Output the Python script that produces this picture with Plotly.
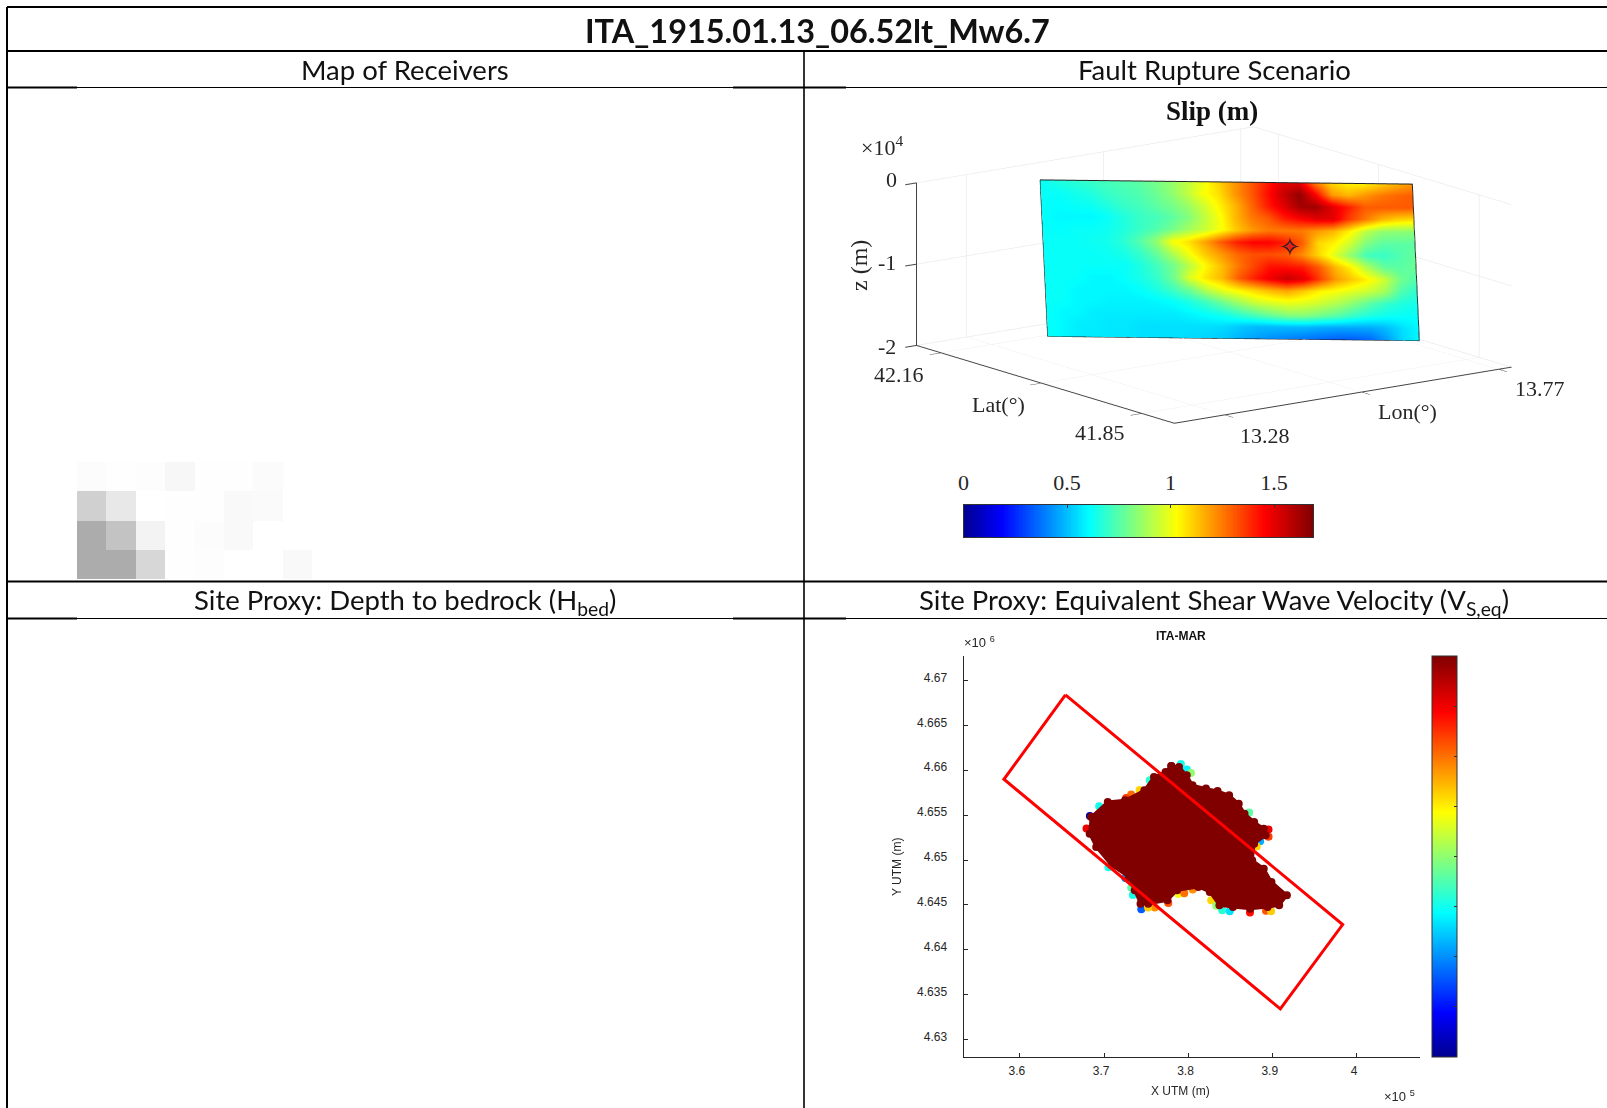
import numpy as np
import plotly.graph_objects as go

W, H = 1607, 1108

# ---------- data ----------
JET = [[0, "rgb(0,0,143)"], [0.11, "rgb(0,0,255)"], [0.36, "rgb(0,255,255)"],
       [0.61, "rgb(255,255,0)"], [0.86, "rgb(255,0,0)"], [1, "rgb(128,0,0)"]]

# Map of receivers: grey raster cells
map_cells = [
    [252, 254, 253, 247, 254, 254, 251, 255],
    [208, 232, 255, 254, 254, 249, 250, 255],
    [172, 195, 243, 254, 252, 249, 255, 255],
    [172, 172, 215, 254, 253, 255, 255, 249],
]

# Slip (m) along strike (columns) and down dip (rows)
slip = [
    [.62,.66,.68,.70,.72,.74,.76,.80,.85,.92,1.0,1.1,1.2,1.3,1.4,1.5,1.5,1.25,1.1,1.05,1.05,1.1,1.15,1.2],
    [.62,.62,.64,.66,.70,.72,.74,.78,.84,.92,1.02,1.08,1.2,1.3,1.42,1.55,1.65,1.45,1.2,1.15,1.2,1.25,1.28,1.3],
    [.62,.61,.62,.63,.66,.70,.72,.76,.80,.86,.95,1.05,1.15,1.28,1.4,1.5,1.62,1.62,1.5,1.4,1.3,1.3,1.3,1.3],
    [.62,.6,.6,.6,.62,.66,.70,.72,.76,.82,.92,1.02,1.15,1.25,1.3,1.4,1.45,1.5,1.5,1.35,1.25,1.15,1.1,1.08],
    [.62,.61,.62,.62,.63,.66,.70,.74,.80,.88,.94,1.02,1.12,1.2,1.25,1.25,1.25,1.2,1.15,1.05,.92,.85,.84,.84],
    [.62,.62,.62,.63,.64,.68,.75,.85,1.02,1.08,1.18,1.3,1.4,1.45,1.45,1.4,1.3,1.1,1.05,.95,.82,.76,.76,.76],
    [.62,.62,.62,.62,.63,.65,.70,.78,.90,1.02,1.12,1.2,1.28,1.32,1.32,1.3,1.22,1.1,.98,.85,.72,.7,.74,.78],
    [.62,.62,.62,.62,.62,.62,.66,.72,.80,.92,1.04,1.14,1.25,1.34,1.42,1.42,1.4,1.3,1.15,1.05,.9,.78,.76,.78],
    [.62,.62,.62,.6,.6,.62,.65,.7,.8,.98,1.08,1.15,1.3,1.4,1.48,1.55,1.5,1.35,1.2,1.12,1.05,.95,.8,.74],
    [.62,.62,.6,.6,.6,.6,.62,.66,.72,.8,.92,1.0,1.05,1.1,1.15,1.18,1.12,1.05,1.02,.98,.94,.88,.74,.68],
    [.62,.62,.6,.6,.59,.59,.59,.6,.62,.66,.72,.8,.88,.95,.98,1.0,.98,.95,.9,.84,.76,.7,.66,.64],
    [.62,.6,.6,.58,.58,.58,.58,.58,.58,.6,.62,.65,.7,.75,.8,.84,.84,.8,.76,.7,.66,.63,.62,.62],
    [.62,.6,.58,.58,.57,.57,.56,.56,.56,.56,.56,.55,.52,.5,.5,.5,.5,.48,.47,.47,.47,.5,.56,.6],
    [.62,.6,.58,.58,.57,.57,.56,.56,.56,.55,.54,.52,.48,.45,.42,.4,.38,.36,.34,.34,.36,.45,.55,.6],
]
slip_max = 1.688
fault_lon_top = [13.344, 13.757]
fault_lat_top = [42.140, 41.922]
fault_lon_bot = [13.376, 13.788]
fault_lat_bot = [42.156, 41.938]
fault_depth = [0, -20000]
hypo_lon, hypo_lat, hypo_z = 13.632, 42.0015, -8150

lon_ticks = [13.28, 13.525, 13.77]
lat_ticks = [41.85, 42.005, 42.16]
z_ticks = [0, -10000, -20000]
slip_ticks = [0, 0.5, 1, 1.5]

# Vs,eq map
rect_x = [365400, 358100, 390900, 398300, 365400]
rect_y = [4668400, 4659000, 4633400, 4642800, 4668400]
basin_x = [377964,378879,379792,380478,382078,383449,384821,385963,386649,387792,388934,389163,
           387792,387563,388934,389849,391677,390763,389392,387335,385278,383678,382535,381164,
           378650,377507,375222,374307,373622,372936,370879,369051,368274,368456,370422,372479,
           374764,375907,377279]
basin_y = [4660484,4660373,4659444,4658329,4657957,4657697,4657214,4656284,4655169,4654240,4653497,4652753,
           4651824,4649965,4649036,4647549,4646063,4644947,4644762,4644576,4644762,4644947,4646434,4646992,
           4646620,4645505,4645133,4645133,4646620,4648107,4649408,4651452,4652939,4654797,4656470,4656656,
           4657771,4659258,4659815]
edge_x = [368300,369400,370500,372500,373200,373400,374400,375400,374200,373200,372600,379100,
          379800,380300,387200,388500,388100,389500,389500,378800,379500,380500,382700,383300,
          384000,384900,387300,389200,389800,377600,376000,375200,367900]
edge_y = [4654900,4656000,4649200,4648000,4646900,4646100,4644500,4658900,4657800,4657300,4656900,4660700,
          4660100,4659700,4655300,4652100,4651500,4653400,4652600,4646200,4646300,4646700,4645500,4644900,
          4644400,4644300,4644150,4644350,4644300,4645200,4644700,4644700,4653500]
edge_vs = [16,304,304,200,360,304,160,320,520,600,640,304,280,400,360,224,520,704,640,480,600,576,
           520,400,320,264,680,624,528,624,576,528,704]

x_tickvals = [360000, 370000, 380000, 390000, 400000]
x_ticktext = ["3.6", "3.7", "3.8", "3.9", "4"]
y_tickvals = [4630000, 4635000, 4640000, 4645000, 4650000, 4655000, 4660000, 4665000, 4670000]
y_ticktext = ["4.63", "4.635", "4.64", "4.645", "4.65", "4.655", "4.66", "4.665", "4.67"]

# ---------- helpers (pixels -> paper) ----------
px = lambda x: x / W
py = lambda y: 1 - y / H


def label(x, y, text, size, family="Lato", color="#111", bold=False, angle=0, **kw):
    if bold:
        text = f"<b>{text}</b>"
    return dict(xref="paper", yref="paper", x=px(x), y=py(y), text=text, showarrow=False,
                xanchor="center", yanchor="middle", textangle=angle,
                font=dict(family=family, size=size, color=color), **kw)


def hline(x0, x1, y, w=1.2):
    return dict(type="line", xref="paper", yref="paper", x0=px(x0), x1=px(x1), y0=py(y), y1=py(y),
                line=dict(color="black", width=w), layer="above")


def vline(x, y0, y1, w=1.2):
    return dict(type="line", xref="paper", yref="paper", x0=px(x), x1=px(x), y0=py(y0), y1=py(y1),
                line=dict(color="black", width=w), layer="above")


fig = go.Figure()

# Map of receivers raster
fig.add_trace(go.Heatmap(z=map_cells, xaxis="x", yaxis="y", showscale=False, hoverinfo="skip",
                         zmin=0, zmax=255, colorscale=[[0, "rgb(0,0,0)"], [1, "rgb(255,255,255)"]]))

# Fault slip surface (3D)
slip_arr = np.array(slip)
rows, cols = slip_arr.shape
s = np.linspace(0, 1, cols)[None, :]
d = np.linspace(0, 1, rows)[:, None]
lon_top = np.interp(s, [0, 1], fault_lon_top)
lon_bot = np.interp(s, [0, 1], fault_lon_bot)
lat_top = np.interp(s, [0, 1], fault_lat_top)
lat_bot = np.interp(s, [0, 1], fault_lat_bot)
X = lon_top + (lon_bot - lon_top) * d
Y = lat_top + (lat_bot - lat_top) * d
Z = np.tile(np.interp(d, [0, 1], fault_depth), (1, cols))
fig.add_trace(go.Surface(x=X, y=Y, z=Z, surfacecolor=slip_arr, cmin=0, cmax=slip_max, colorscale=JET,
                         showscale=False, hoverinfo="skip", scene="scene",
                         lighting=dict(ambient=1, diffuse=0, specular=0, fresnel=0, roughness=1)))
fig.add_trace(go.Scatter3d(
    x=[fault_lon_top[0], fault_lon_top[1], fault_lon_bot[1], fault_lon_bot[0], fault_lon_top[0]],
    y=[fault_lat_top[0], fault_lat_top[1], fault_lat_bot[1], fault_lat_bot[0], fault_lat_top[0]],
    z=[0, 0, -20000, -20000, 0], mode="lines", line=dict(color="#222", width=2),
    hoverinfo="skip", showlegend=False, scene="scene"))

# Horizontal colour bar of the slip
fig.add_trace(go.Heatmap(z=[np.linspace(0, slip_max, 256).tolist()], x=np.linspace(0, slip_max, 256).tolist(),
                         xaxis="x2", yaxis="y2", zmin=0, zmax=slip_max, colorscale=JET, showscale=False,
                         hoverinfo="skip"))

# Vs,eq map
fig.add_trace(go.Scatter(x=edge_x, y=edge_y, mode="markers", xaxis="x3", yaxis="y3", hoverinfo="skip",
                         showlegend=False,
                         marker=dict(size=8, color=edge_vs, cmin=0, cmax=800, colorscale=JET, showscale=False)))
fig.add_trace(go.Scatter(x=basin_x + basin_x[:1], y=basin_y + basin_y[:1], mode="lines+markers", fill="toself",
                         fillcolor="rgb(128,0,0)", line=dict(color="rgb(128,0,0)", width=3),
                         marker=dict(size=8, color="rgb(128,0,0)"),
                         xaxis="x3", yaxis="y3", hoverinfo="skip", showlegend=False))
fig.add_trace(go.Scatter(x=rect_x, y=rect_y, mode="lines", line=dict(color="#f00", width=3),
                         xaxis="x3", yaxis="y3", hoverinfo="skip", showlegend=False))
# invisible carrier of the vertical colour bar
fig.add_trace(go.Scatter(x=[None], y=[None], mode="markers", xaxis="x3", yaxis="y3", hoverinfo="skip",
                         showlegend=False,
                         marker=dict(color=[0, 800], cmin=0, cmax=800, colorscale=JET, showscale=True,
                                     colorbar=dict(x=px(1432), xanchor="left", y=py(1057), yanchor="bottom",
                                                   len=401, lenmode="pixels", thickness=25, thicknessmode="pixels",
                                                   outlinecolor="#333", outlinewidth=1, xpad=0, ypad=0,
                                                   ticks="inside", ticklen=3, tickcolor="#333",
                                                   tick0=0, dtick=100, showticklabels=False))))

ax_hidden = dict(visible=False, fixedrange=True)
grid = "#e2e2e2"
axis3d = dict(showbackground=False, gridcolor=grid, gridwidth=1, zeroline=False, showspikes=False,
              showticklabels=False, title="", showline=True, linecolor="#444", linewidth=2,
              ticks="outside", ticklen=14, tickwidth=2, tickcolor="#444", showaxeslabels=False)

annots = [
    label(817, 30, "ITA_1915.01.13_06.52lt_Mw6.7", 32.4, bold=True),
    label(405, 69, "Map of Receivers", 27.5),
    label(1214, 69, "Fault Rupture Scenario", 27.5),
    label(405, 601, "Site Proxy: Depth to bedrock (H<sub>bed</sub>)", 27.5),
    label(1214, 601, "Site Proxy: Equivalent Shear Wave Velocity (V<sub>S,eq</sub>)", 27.5),
    # Slip panel
    label(1212, 111, "Slip (m)", 27, family="Liberation Serif", bold=True),
    label(882, 146, "×10<sup>4</sup>", 22, family="Liberation Serif", color="#262626"),
    label(891, 180, "0", 22, family="Liberation Serif", color="#262626"),
    label(887, 262, "-1", 22, family="Liberation Serif", color="#262626"),
    label(887, 346, "-2", 22, family="Liberation Serif", color="#262626"),
    label(859, 266, "z (m)", 24, family="Liberation Serif", color="#262626", angle=-90),
    label(899, 375, "42.16", 22, family="Liberation Serif", color="#262626"),
    label(1100, 432, "41.85", 22, family="Liberation Serif", color="#262626"),
    label(1265, 435, "13.28", 22, family="Liberation Serif", color="#262626"),
    label(1540, 388, "13.77", 22, family="Liberation Serif", color="#262626"),
    label(998, 404, "Lat(°)", 22, family="Liberation Serif", color="#262626"),
    label(1407, 412, "Lon(°)", 22, family="Liberation Serif", color="#262626"),
    # Vs panel
    label(1181, 636, "ITA-MAR", 12, family="Liberation Sans", bold=True),
    label(980, 642, "×10 <sup>6</sup>", 13, family="Liberation Sans", color="#262626"),
    label(897, 867, "Y UTM (m)", 12, family="Liberation Sans", color="#262626", angle=-90),
    label(1180, 1091, "X UTM (m)", 12, family="Liberation Sans", color="#262626"),
    label(1399, 1096, "×10 <sup>5</sup>", 13, family="Liberation Sans", color="#262626"),
]

shapes = [
    hline(7, W, 7, 2.2), hline(7, W, 51, 2), hline(7, W, 87.5), hline(7, W, 581.5, 2), hline(7, W, 618.5),
    vline(7, 7, H, 2), vline(804, 51, H, 1.6),
    hline(7, 77, 87.5, 2), hline(733, 846, 87.5, 2),
    hline(7, 77, 618.5, 2), hline(733, 846, 618.5, 2),
]

cb_range = [0, slip_max]
fig.update_layout(
    width=W, height=H, autosize=False, margin=dict(l=0, r=0, t=0, b=0, pad=0, autoexpand=False),
    paper_bgcolor="white", plot_bgcolor="rgba(0,0,0,0)", showlegend=False, hovermode=False,
    annotations=annots, shapes=shapes,
    xaxis=dict(domain=[px(77), px(312)], anchor="y", **ax_hidden),
    yaxis=dict(domain=[py(579), py(462)], anchor="x", autorange="reversed", **ax_hidden),
    xaxis2=dict(domain=[px(963.5), px(1313)], anchor="y2", side="top", range=cb_range, tickvals=slip_ticks,
                ticktext=["0", "0.5", "1", "1.5"], ticks="inside", ticklen=3, tickcolor="#333", showline=True,
                linecolor="#333", mirror=True, fixedrange=True, showgrid=False, zeroline=False,
                ticklabelstandoff=5,
                tickfont=dict(family="Liberation Serif", size=22, color="#262626")),
    yaxis2=dict(domain=[py(537), py(505)], anchor="x2", showticklabels=False, ticks="", showline=True,
                linecolor="#333", mirror=True, fixedrange=True, showgrid=False, zeroline=False),
    xaxis3=dict(domain=[px(963.5), px(1419.6)], anchor="y3", range=[353300, 407430], tickvals=x_tickvals,
                ticktext=x_ticktext, ticks="inside", ticklen=4, tickcolor="#262626", showline=True,
                linecolor="#262626", showgrid=False, zeroline=False, fixedrange=True,
                ticklabelstandoff=3, ticklabelshift=-3,
                tickfont=dict(family="Liberation Sans", size=12, color="#262626")),
    yaxis3=dict(domain=[py(1057), py(656)], anchor="x3", range=[4628040, 4672740], tickvals=y_tickvals,
                ticktext=y_ticktext, ticks="inside", ticklen=4, tickcolor="#262626", showline=True,
                linecolor="#262626", showgrid=False, zeroline=False, fixedrange=True,
                ticklabelstandoff=13, ticklabelshift=-3,
                tickfont=dict(family="Liberation Sans", size=12, color="#262626")),
    scene=dict(
        domain=dict(x=[px(863.5), px(1563.5)], y=[py(524.7), py(24.7)]),
        bgcolor="rgba(0,0,0,0)", aspectmode="manual", aspectratio=dict(x=1.68, y=1.73, z=0.667),
        camera=dict(projection=dict(type="orthographic"), center=dict(x=0, y=0, z=0), up=dict(x=0, y=0, z=1),
                    eye=dict(x=-0.581 * 1.5, y=-0.7825 * 1.5, z=0.2242 * 1.5)),
        xaxis=dict(range=[13.19, 13.793], tickvals=lon_ticks, **axis3d),
        yaxis=dict(range=[41.80, 42.198], tickvals=lat_ticks, **axis3d),
        zaxis=dict(range=[-20000, 0], tickvals=z_ticks, **axis3d),
        annotations=[
            dict(x=hypo_lon, y=hypo_lat, z=hypo_z, text="✦", showarrow=False, font=dict(size=26, color="#e8201a")),
            dict(x=hypo_lon, y=hypo_lat, z=hypo_z, text="✧", showarrow=False, font=dict(size=26, color="#222")),
        ],
    ),
)

fig.write_html("out.html", config=dict(displayModeBar=False),
               post_script="document.body.style.margin='0';")
